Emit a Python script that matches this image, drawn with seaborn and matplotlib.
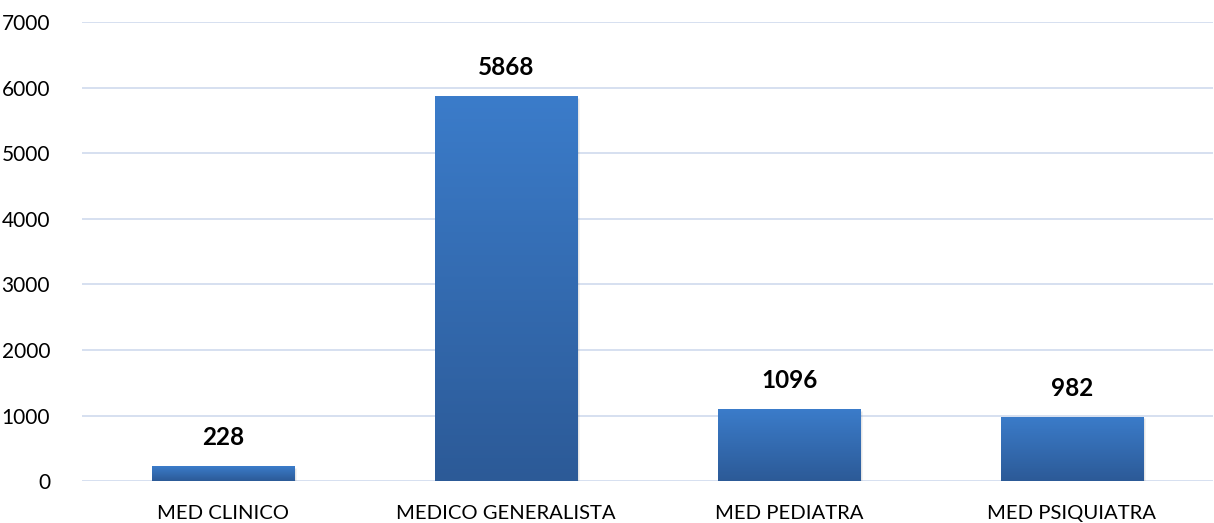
import numpy as np
import pandas as pd
import matplotlib
matplotlib.use('Agg')
import matplotlib.pyplot as plt
import matplotlib.colors as mcolors
import seaborn as sns

# Chart data
categories = ['MED CLINICO', 'MEDICO GENERALISTA', 'MED PEDIATRA', 'MED PSIQUIATRA']
counts = [228, 5868, 1096, 982]
y_ticks = [0, 1000, 2000, 3000, 4000, 5000, 6000, 7000]

df = pd.DataFrame({'categoria': categories, 'total': counts})

sns.set_theme(style='white')
plt.rcParams['font.family'] = ['Lato', 'DejaVu Sans']

fig = plt.figure(figsize=(12.14, 5.23), dpi=100)
ax = fig.add_axes([0.0675, 0.080, 0.932, 0.878])

sns.barplot(data=df, x='categoria', y='total', color='#3A7BC8', width=0.505,
            ax=ax, zorder=3)

# Vertical gradient on each bar (light top, dark bottom)
cmap = mcolors.LinearSegmentedColormap.from_list('barfill', ['#2C5A97', '#3B7CCA'])
grad = np.linspace(0, 1, 256).reshape(-1, 1)
for patch in ax.patches:
    x0, y0 = patch.get_x(), patch.get_y()
    w, h = patch.get_width(), patch.get_height()
    # soft shadow
    ax.bar(x0 + w / 2 + 0.006, h, width=w, bottom=y0 - 25, color='#000000',
           alpha=0.10, zorder=2)
    im = ax.imshow(grad, cmap=cmap, aspect='auto', origin='lower',
                   extent=[x0, x0 + w, y0, y0 + h], zorder=4)
    im.set_clip_path(patch)
    patch.set_edgecolor('none')

# value labels
for i, v in enumerate(counts):
    ax.text(i, v + 260, str(v), ha='center', va='bottom', fontsize=17.5,
            fontweight='bold', color='black', zorder=5)

ax.set_xlim(-0.5, len(categories) - 0.5)
ax.set_ylim(0, 7000)
ax.set_yticks(y_ticks)
ax.set_yticklabels([str(t) for t in y_ticks])
ax.yaxis.grid(True, color='#D6E0F0', linewidth=1.4, zorder=0)
ax.xaxis.grid(False)
ax.set_axisbelow(True)
for s in ax.spines.values():
    s.set_visible(False)
ax.tick_params(axis='y', labelsize=15, pad=23, length=0, colors='black')
ax.tick_params(axis='x', labelsize=14.6, pad=17, length=0, colors='black')
ax.set_xlabel('')
ax.set_ylabel('')

fig.savefig('out.png', dpi=100)
